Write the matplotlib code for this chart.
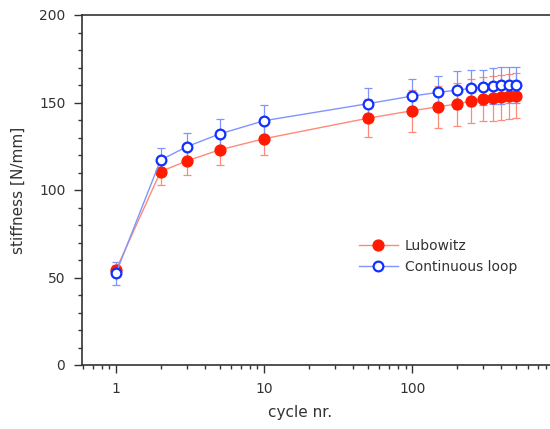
import matplotlib
matplotlib.use("Agg")
import matplotlib.pyplot as plt
from matplotlib.ticker import FixedLocator, MultipleLocator, NullFormatter

# cycle numbers
cycles = [1, 2, 3, 5, 10, 50, 100, 150, 200, 250, 300, 350, 400, 450, 500]

# Lubowitz (mean, sd)
lub_mean = [54.3, 110.5, 116.6, 122.9, 129.3, 141.0, 145.3, 147.6, 149.1, 150.9, 151.8, 152.4, 153.0, 153.5, 153.9]
lub_err = [3.0, 7.6, 8.0, 8.6, 9.3, 10.9, 12.0, 12.0, 12.3, 12.5, 12.6, 12.7, 12.8, 12.9, 13.0]

# Continuous loop (mean, sd)
cl_mean = [52.4, 117.1, 124.7, 132.0, 139.6, 149.3, 153.7, 155.8, 157.1, 158.1, 158.7, 159.4, 159.8, 160.0, 160.0]
cl_err = [6.7, 7.0, 7.7, 8.4, 8.8, 9.2, 9.7, 9.3, 10.7, 10.3, 10.0, 10.3, 10.5, 10.5, 10.5]

fig = plt.figure(figsize=(5.5, 4.29), dpi=100)
ax = fig.add_axes([82 / 550, 1 - 365 / 429, 1 - 82 / 550, 350 / 429])

red, red_lt = "#ff1a00", "#ff8a7a"
blue, blue_lt = "#1030ff", "#8094ff"

ax.errorbar(cycles, lub_mean, yerr=lub_err, fmt="none", ecolor=red_lt,
            elinewidth=0.9, capsize=3, capthick=0.9, zorder=2)
ax.errorbar(cycles, cl_mean, yerr=cl_err, fmt="none", ecolor=blue_lt,
            elinewidth=0.9, capsize=3, capthick=0.9, zorder=2)
ax.plot(cycles, lub_mean, color=red_lt, lw=1.0, marker="o", ms=7.8,
        mfc=red, mec=red, label="Lubowitz", zorder=3)
ax.plot(cycles, cl_mean, color=blue_lt, lw=1.0, marker="o", ms=7.0,
        mfc="white", mec=blue, mew=1.6, label="Continuous loop", zorder=4)

ax.set_xscale("log")
ax.set_xlim(0.59, 850)
ax.set_ylim(0, 200)

ax.set_xticks([1, 10, 100])
ax.set_xticklabels(["1", "10", "100"])
minors = [m * 10 ** e for e in (-1, 0, 1, 2) for m in range(2, 10)]
ax.xaxis.set_minor_locator(FixedLocator(minors))
ax.xaxis.set_minor_formatter(NullFormatter())
ax.yaxis.set_major_locator(MultipleLocator(50))
ax.yaxis.set_minor_locator(MultipleLocator(10))

ax.tick_params(which="major", direction="out", length=6, width=1.0,
               labelsize=10, labelcolor="#333333", color="#333333", pad=6)
ax.tick_params(which="minor", direction="out", length=3, width=1.0, color="#333333")

for s in ("left", "bottom", "top"):
    ax.spines[s].set_color("#333333")
    ax.spines[s].set_linewidth(1.2)
ax.spines["right"].set_visible(False)

ax.set_xlabel("cycle nr.", fontsize=11, color="#333333")
ax.set_ylabel("stiffness [N/mm]", fontsize=11, color="#333333")
ax.xaxis.set_label_coords((300 - 82) / 468, (365 - 412) / 350)
ax.yaxis.set_label_coords((18 - 82) / 468, 0.5)
ax.xaxis.label.set_va("center")
ax.yaxis.label.set_va("center")

leg = ax.legend(loc="upper left", bbox_to_anchor=(0.58, 0.375), frameon=False,
                fontsize=10, handlelength=2.8, handletextpad=0.5,
                labelspacing=0.45, borderaxespad=0)
for t in leg.get_texts():
    t.set_color("#333333")

fig.savefig("out.png", dpi=100)
